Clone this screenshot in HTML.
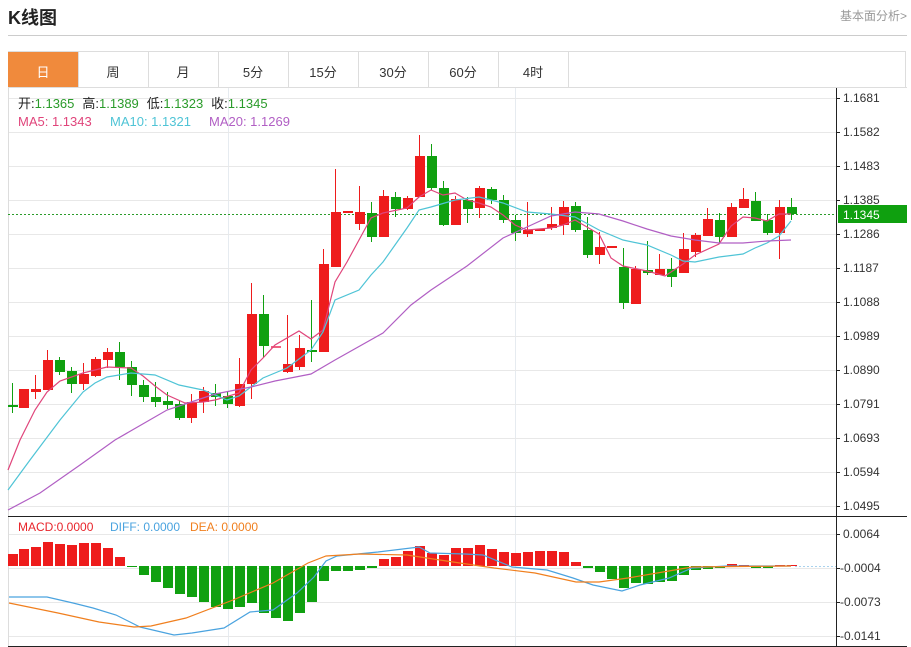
<!DOCTYPE html>
<html><head><meta charset="utf-8"><style>
body{margin:0;width:911px;height:647px;background:#fff;overflow:hidden;font-family:"Liberation Sans","Noto Sans CJK SC",sans-serif;position:relative}
.t{position:absolute;white-space:nowrap}
</style></head><body>
<div class="t" style="left:8px;top:4px;font-size:18px;font-weight:bold;color:#222">K线图</div>
<div class="t" style="left:840px;top:7px;font-size:12px;color:#999">基本面分析&gt;</div>
<div style="position:absolute;left:8px;top:35px;width:899px;height:1px;background:#ccc"></div>
<div style="position:absolute;left:8px;top:51px;width:898px;height:36px;border:1px solid #ddd;border-bottom:none;box-sizing:border-box"></div>
<div style="position:absolute;left:8px;top:52px;width:70px;height:35px;background:#f08a3c"></div>
<div class="t" style="left:8px;top:62px;width:70px;text-align:center;font-size:13px;color:#fff">日</div>
<div class="t" style="left:78px;top:62px;width:70px;text-align:center;font-size:13px;color:#333">周</div>
<div class="t" style="left:148px;top:62px;width:70px;text-align:center;font-size:13px;color:#333">月</div>
<div class="t" style="left:218px;top:62px;width:70px;text-align:center;font-size:13px;color:#333">5分</div>
<div class="t" style="left:288px;top:62px;width:70px;text-align:center;font-size:13px;color:#333">15分</div>
<div class="t" style="left:358px;top:62px;width:70px;text-align:center;font-size:13px;color:#333">30分</div>
<div class="t" style="left:428px;top:62px;width:70px;text-align:center;font-size:13px;color:#333">60分</div>
<div class="t" style="left:498px;top:62px;width:70px;text-align:center;font-size:13px;color:#333">4时</div>
<svg id="s" width="911" height="647" style="position:absolute;left:0;top:0">
<g stroke="#ddd" stroke-width="1">
<line x1="78.5" y1="52" x2="78.5" y2="87"/><line x1="148.5" y1="52" x2="148.5" y2="87"/><line x1="218.5" y1="52" x2="218.5" y2="87"/><line x1="288.5" y1="52" x2="288.5" y2="87"/><line x1="358.5" y1="52" x2="358.5" y2="87"/><line x1="428.5" y1="52" x2="428.5" y2="87"/><line x1="498.5" y1="52" x2="498.5" y2="87"/><line x1="568.5" y1="52" x2="568.5" y2="87"/>
<line x1="8" y1="87.5" x2="907" y2="87.5"/>
<line x1="8.5" y1="87" x2="8.5" y2="646"/>
<line x1="228.5" y1="88" x2="228.5" y2="646" stroke="#e6ebf0"/><line x1="515.5" y1="88" x2="515.5" y2="646" stroke="#e6ebf0"/>
</g>
<g id="grid" stroke="#e8e8e8"></g>
<g id="ax" font-size="12" fill="#333" font-family="Liberation Sans,sans-serif"></g>
<line x1="836.5" y1="88" x2="836.5" y2="646" stroke="#222"/>
<line x1="8" y1="516.5" x2="907" y2="516.5" stroke="#222"/>
<line x1="8" y1="646.5" x2="907" y2="646.5" stroke="#222"/>
<line x1="8" y1="214.5" x2="836" y2="214.5" stroke="#2a9b2a" stroke-dasharray="2,2"/>
<rect x="838" y="205" width="69" height="18" fill="#0fa00f"/>
<text x="843" y="219" font-size="12" fill="#fff" font-family="Liberation Sans,sans-serif">1.1345</text>
<line x1="795" y1="566.5" x2="836" y2="566.5" stroke="#a9d3ee" stroke-dasharray="2,2"/>
<g id="c"></g><g id="m"></g>
<text y="108" font-size="13" font-family="Liberation Sans,Noto Sans CJK SC,sans-serif"><tspan x="18" fill="#222">开:</tspan><tspan fill="#2a9b2a">1.1365</tspan><tspan dx="8" fill="#222">高:</tspan><tspan fill="#2a9b2a">1.1389</tspan><tspan dx="8" fill="#222">低:</tspan><tspan fill="#2a9b2a">1.1323</tspan><tspan dx="8" fill="#222">收:</tspan><tspan fill="#2a9b2a">1.1345</tspan></text>
<text y="126" font-size="13" font-family="Liberation Sans,sans-serif"><tspan x="18" fill="#e0457b">MA5: 1.1343</tspan><tspan x="110" fill="#4fc4d6">MA10: 1.1321</tspan><tspan x="209" fill="#b15fc4">MA20: 1.1269</tspan></text>
<text y="531" font-size="12" font-family="Liberation Sans,sans-serif"><tspan x="18" fill="#e8252b">MACD:0.0000</tspan><tspan x="110" fill="#4aa3df">DIFF: 0.0000</tspan><tspan x="190" fill="#f07f1e">DEA: 0.0000</tspan></text>
</svg>
<script>
var NS="http://www.w3.org/2000/svg";
function el(p,t,a){var e=document.createElementNS(NS,t);for(var k in a)e.setAttribute(k,a[k]);document.getElementById(p).appendChild(e);return e;}
var ticks=[["1.1681",98],["1.1582",132],["1.1483",166],["1.1385",200],["1.1286",234],["1.1187",268],["1.1088",302],["1.0989",336],["1.0890",370],["1.0791",404],["1.0693",438],["1.0594",472],["1.0495",506],["0.0064",534],["-0.0004",568],["-0.0073",602],["-0.0141",636]];
ticks.forEach(function(t){el("grid","line",{x1:9,x2:836,y1:t[1]+.5,y2:t[1]+.5});el("ax","line",{x1:836,x2:840,y1:t[1]+.5,y2:t[1]+.5,stroke:"#222"});var tx=el("ax","text",{x:t[0][0]=="-"?840:843,y:t[1]+4});tx.textContent=(t[0][0]=="-"?"-":"")+t[0].replace("-","");});
// x, color, bodyTop, bodyBot, high, low
var C=[[12,"g",405,407,383,413],[23,"r",389,408,389,408],[35,"r",389,392,375,399],[47,"r",360,390,350,390],[59,"g",360,372,357,375],[71,"g",371,384,367,393],[83,"r",374,384,363,390],[95,"r",359,376,357,377],[107,"r",352,360,348,368],[119,"g",352,367,342,380],[131,"g",367,385,361,396],[143,"g",385,397,380,402],[155,"g",397,402,382,407],[167,"g",401,405,392,409],[179,"g",404,418,400,420],[191,"r",402,418,394,423],[203,"r",391,402,387,413],[215,"g",393,397,384,406],[227,"g",396,404,391,408],[239,"r",384,406,358,407],[251,"r",314,384,283,399],[263,"g",314,346,295,358],[275,"p",346,348,346,348],[287,"r",364,372,315,373],[299,"r",348,367,335,370],[311,"g",350,352,300,362],[323,"r",264,352,249,352],[335,"r",212,267,169,267],[347,"r",211,213,211,213],[359,"r",212,224,186,230],[371,"g",213,237,202,242],[383,"r",196,237,190,237],[395,"g",197,209,192,217],[407,"r",198,209,196,210],[419,"r",156,197,135,197],[431,"g",156,188,144,190],[443,"g",188,225,181,226],[455,"r",199,225,196,225],[467,"g",200,209,197,223],[479,"r",188,208,186,218],[491,"g",189,200,187,204],[503,"g",200,220,195,223],[515,"g",220,233,215,241],[527,"r",230,234,202,237],[539,"r",229,231,229,231],[551,"r",224,228,207,230],[563,"r",207,225,201,235],[575,"g",206,230,202,232],[587,"g",230,255,217,258],[599,"r",247,255,232,264],[611,"r",246,248,246,248],[623,"g",267,303,248,309],[635,"r",269,304,266,304],[647,"g",270,273,241,275],[659,"r",269,275,254,275],[671,"g",269,277,258,287],[683,"r",249,273,233,273],[695,"r",235,252,233,257],[707,"r",219,236,208,236],[719,"g",220,237,213,243],[731,"r",207,237,203,237],[743,"r",199,208,188,208],[755,"g",201,221,192,221],[767,"g",220,233,214,235],[779,"r",207,233,200,259],[791,"g",207,214,198,220]];
var col={r:"#ee1c1c",g:"#10a010",p:"#f06080"};
C.forEach(function(c){var f=col[c[1]];el("c","line",{x1:c[0]+.5,x2:c[0]+.5,y1:c[4],y2:c[5],stroke:f});el("c","rect",{x:c[0]-4,y:c[2],width:10,height:Math.max(2,c[3]-c[2]),fill:f});});
function pl(pts,color){el("m","polyline",{points:pts,fill:"none",stroke:color,"stroke-width":1.2});}
pl("8,470 20,440 35,410 47,392 60,381 83,373 107,367 131,368 143,376 155,386 167,395 185,403 203,402 215,400 239,393 251,370 263,358 275,345 299,331 311,339 323,330 335,282 347,262 359,240 371,218 383,213 407,208 419,197 431,190 443,195 455,193 467,200 479,203 491,207 503,215 515,225 527,230 551,228 563,225 575,220 599,234 611,258 623,266 647,271 665,276 683,264 695,255 719,244 731,226 743,217 755,218 767,221 779,214 791,214","#e0457b");
pl("8,490 30,460 60,420 83,392 95,383 107,377 131,373 155,375 179,385 203,390 227,400 239,396 263,378 287,368 311,350 323,332 335,300 359,290 371,275 383,262 395,245 407,228 419,210 431,207 455,200 479,197 503,203 527,212 551,214 575,217 599,230 623,240 647,245 671,255 683,261 695,262 719,257 743,254 755,248 767,243 779,236 791,221","#4fc4d6");
pl("8,510 40,493 80,465 115,440 167,410 215,394 251,387 275,381 311,374 335,360 383,333 411,305 431,290 467,266 503,238 527,227 551,216 575,212 599,214 623,221 647,229 671,236 695,240 719,243 743,243 767,241 791,240","#b15fc4");
// MACD histogram
var H=[554,549,547,542,544,545,543,543,548,557,567,575,582,588,594,597,602,607,609,607,603,613,618,621,613,602,581,571,571,570,568,559,557,551,546,553,555,548,548,545,549,552,553,552,551,551,552,562,568,572,579,588,583,584,582,581,575,570,569,568,564,565,568,568,565,565];
H.forEach(function(h,i){var x=C[i][0];var z=566;var up=h<z;var y=up?h:z,ht=Math.max(1,Math.abs(h-z));if(i>=58&&i<64&&!up){}el("m","rect",{x:x-4,y:y,width:10,height:ht,fill:up?"#ee1c1c":"#10a010"});});
pl("9,597 47,597 73,603 93,608 116,615 140,627 174,635 192,633 224,628 250,612 273,610 297,593 314,577 326,561 337,556 378,552 419,547 430,553 465,554 483,555 512,567 547,570 573,578 593,585 622,591 640,585 669,578 692,568 727,566 791,566","#4aa3df");
pl("9,603 58,613 99,622 134,627 151,626 186,618 233,600 273,583 308,563 326,556 360,554 407,555 453,562 494,568 535,573 576,582 599,582 628,578 663,572 692,567 791,566","#f07f1e");
</script>
</body></html>
